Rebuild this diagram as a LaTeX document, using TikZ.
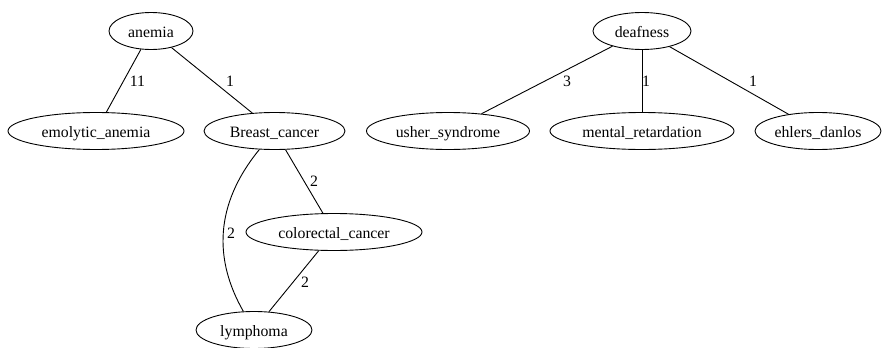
\documentclass[tikz,border=0pt]{standalone}
\usepackage{fontspec}
\setmainfont{Liberation Serif}
\usetikzlibrary{shapes.geometric}
\tikzset{
  gnode/.style={draw, ellipse, line width=0.9pt, inner sep=0pt, minimum height=37pt,
    font=\fontsize{15.8}{18}\selectfont, text height=12pt, text depth=0pt},
  elabel/.style={inner sep=0pt, font=\fontsize{15.8}{18}\selectfont},
  gedge/.style={line width=0.9pt}
}
\begin{document}
\begin{tikzpicture}[x=1pt,y=-1pt]
\useasboundingbox (0,0) rectangle (884,348);
\node[gnode, minimum width=84pt] (an) at (151,31) {anemia};
\node[gnode, minimum width=176pt] (em) at (96,131) {emolytic\_anemia};
\node[gnode, minimum width=141pt] (bc) at (274.5,131) {Breast\_cancer};
\node[gnode, minimum width=176pt] (cc) at (334,232) {colorectal\_cancer};
\node[gnode, minimum width=116pt] (ly) at (254,330) {lymphoma};
\node[gnode, minimum width=98pt] (de) at (642,31) {deafness};
\node[gnode, minimum width=163pt] (us) at (448,131) {usher\_syndrome};
\node[gnode, minimum width=184pt] (mr) at (642,131) {mental\_retardation};
\node[gnode, minimum width=126pt] (ed) at (818,131) {ehlers\_danlos};

\draw[gedge] (an) -- (em);
\draw[gedge] (an) -- (bc);
\draw[gedge] (bc) -- (cc);
\draw[gedge] (cc) -- (ly);
\draw[gedge] (bc) .. controls (214,205) and (214,260) .. (ly);
\draw[gedge] (de) -- (us);
\draw[gedge] (de) -- (mr);
\draw[gedge] (de) -- (ed);

\node[elabel] (l1) at (137.5,81) {11};
\node[elabel] (l2) at (230,81) {1};
\node[elabel] (l3) at (314,181) {2};
\node[elabel] (l4) at (231,233) {2};
\node[elabel] (l5) at (305,282) {2};
\node[elabel] (l6) at (567,81) {3};
\node[elabel] (l7) at (646,81) {1};
\node[elabel] (l8) at (753,81) {1};
\end{tikzpicture}
\end{document}
